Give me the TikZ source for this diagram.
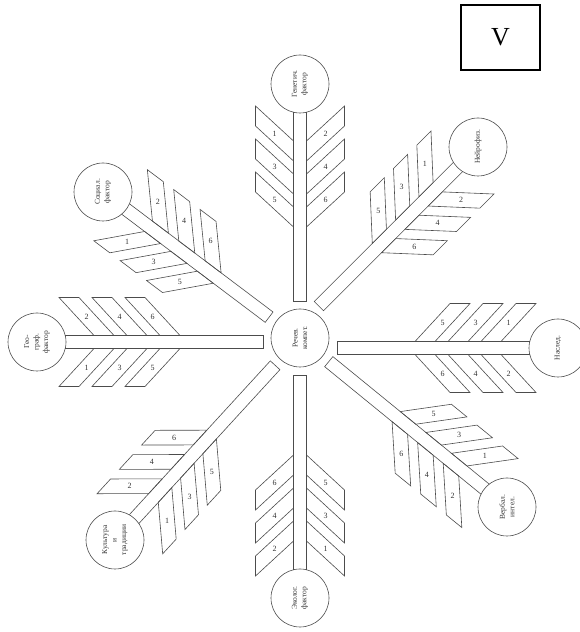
\documentclass[tikz,border=0pt]{standalone}
\usepackage{fontspec}
\setmainfont{Liberation Serif}
\newcommand\myarm[3]{% #1 circle node name, #2 angle (circle -> centre), #3 stem length
  \begin{scope}[shift={(#1)}, rotate=#2]
    \draw[ln] (28.3,6.5) -- (#3,6.5) -- (#3,-6.5) -- (28.3,-6.5);
    \foreach \d/\a/\b in {57/1/2,90/3/4,123/5/6}{
      \draw[ln] (\d,-6.5) -- (\d+20,-6.5) -- (\d-15,-44.5) -- (\d-35,-44.5) -- cycle;
      \node[num] (#1n\a) at (\d-7.5,-25.5) {\a};
      \draw[ln] (\d,6.5) -- (\d+20,6.5) -- (\d-15,44.5) -- (\d-35,44.5) -- cycle;
      \node[num] (#1n\b) at (\d-7.5,25.5) {\b};
    }
  \end{scope}}
\begin{document}
\begin{tikzpicture}[x=1pt,y=1pt,
  ln/.style={draw=black!70, line width=0.6pt, line join=miter},
  circ/.style={circle, draw=black!70, line width=0.6pt, minimum size=58pt, inner sep=0pt,
    align=center, rotate=90, font=\fontsize{7.5}{9.5}\selectfont, text=black!80},
  num/.style={font=\fontsize{8}{9}\selectfont, text=black!80, inner sep=0pt}]
\useasboundingbox (0,0) rectangle (580,632);
% frame with V
\node[draw=black, line width=1.2pt, minimum width=79pt, minimum height=65pt, inner sep=0pt,
  font=\fontsize{26}{28}\selectfont] (V) at (500.5,594.5) {V};
% circles
\node[circ] (cC) at (300,294) {Речев.\\компет.};
\node[circ] (cT) at (300,548) {Генетич.\\фактор};
\node[circ] (cTR) at (478,485) {Нейрофиз.};
\node[circ] (cR) at (558,284) {Наслед.};
\node[circ] (cBR) at (507,125) {Вербал.\\интел.};
\node[circ] (cB) at (300,34) {Эколог.\\фактор};
\node[circ] (cBL) at (115,92) {Культура\\и\\традиции};
\node[circ] (cL) at (37,290) {Гео-\\граф.\\фактор};
\node[circ] (cTL) at (103,440) {Социал.\\фактор};
% arms
\myarm{cT}{-90}{217}
\myarm{cTR}{225}{225}
\myarm{cR}{180}{221}
\myarm{cBR}{140.8}{230}
\myarm{cB}{90}{223}
\myarm{cBL}{47.5}{237}
\myarm{cL}{0}{226}
\myarm{cTL}{-37}{208}
\end{tikzpicture}
\end{document}
